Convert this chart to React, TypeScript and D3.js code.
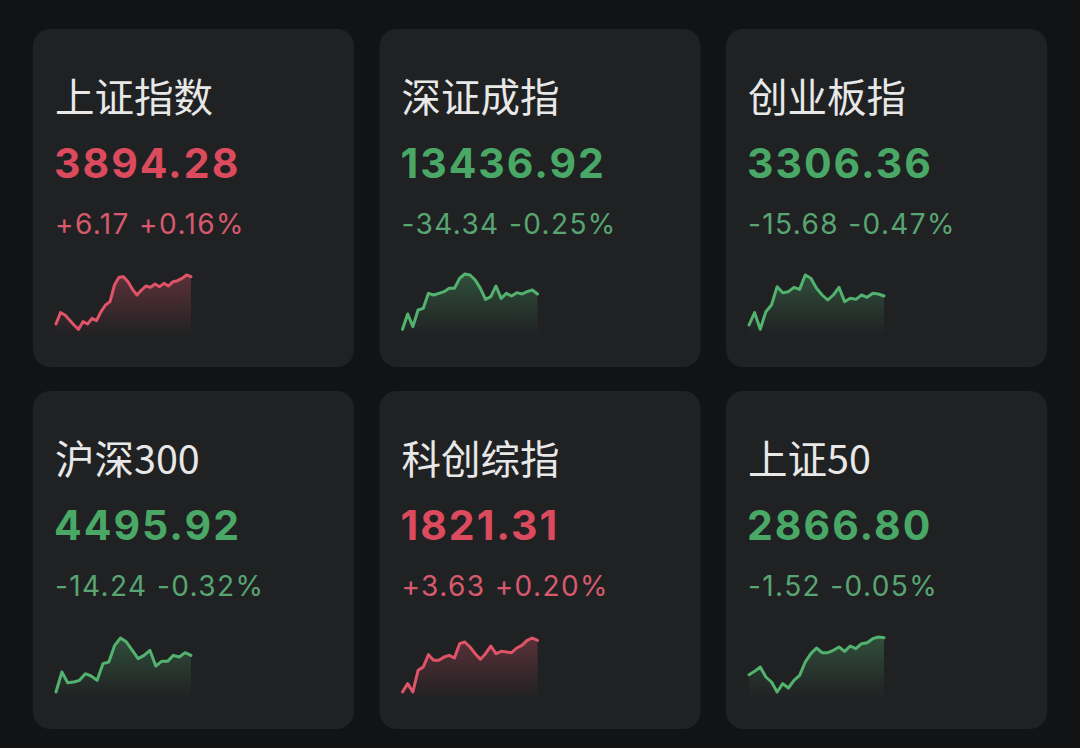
import React from "react";
import * as d3 from "d3";

const names = ["上证指数", "深证成指", "创业板指", "沪深300", "科创综指", "上证50"];
const lastValues = [3894.28, 13436.92, 3306.36, 4495.92, 1821.31, 2866.8];
const changes = [6.17, -34.34, -15.68, -14.24, 3.63, -1.52];
const changePcts = [0.16, -0.25, -0.47, -0.32, 0.2, -0.05];

// intraday sparkline levels (relative plot units)
const spark1 = [48, 82, 75, 60, 45, 32, 55, 48, 65, 58, 85, 105, 115, 165, 188, 190, 175, 152, 135, 150, 162, 158, 168, 160, 170, 162, 175, 178, 185, 195, 190];
const spark2 = [32, 78, 40, 90, 95, 140, 135, 140, 145, 155, 155, 185, 198, 195, 180, 155, 122, 130, 162, 125, 140, 132, 142, 138, 145, 150, 138];
const spark3 = [45, 82, 32, 85, 105, 160, 142, 145, 158, 152, 195, 185, 155, 135, 120, 135, 158, 115, 125, 122, 135, 128, 140, 138, 132];
const spark4 = [30, 90, 58, 60, 65, 85, 78, 65, 115, 120, 170, 192, 180, 155, 130, 140, 155, 108, 122, 122, 140, 135, 148, 140];
const spark5 = [30, 55, 30, 95, 105, 142, 125, 125, 135, 140, 132, 175, 180, 165, 145, 128, 145, 168, 145, 152, 150, 148, 162, 170, 185, 192, 185];
const spark6 = [82, 92, 105, 75, 60, 30, 55, 42, 65, 80, 120, 145, 162, 148, 148, 155, 165, 152, 168, 160, 175, 178, 190, 195, 193];
const sparks = [spark1, spark2, spark3, spark4, spark5, spark6];

const W = 1080;
const H = 748;
const BG = "#121315";
const CARD = "#202123";
const RED = "#dc4a5e";
const RED_SUB = "#d75a6c";
const RED_LINE = "#e05468";
const GREEN = "#4aa867";
const GREEN_SUB = "#58a572";
const GREEN_LINE = "#52b26e";

const colX = d3.scaleBand<number>().domain([0, 1, 2]).range([33, 1047]).paddingInner(0.0736).paddingOuter(0);
const rowY = d3.scaleBand<number>().domain([0, 1]).range([29, 729]).paddingInner(0.0663).paddingOuter(0);

const fmtNum = (v: number) => v.toFixed(2);
const fmtSigned = (v: number) => (v > 0 ? "+" : "") + v.toFixed(2);

function Card({ i }: { i: number }) {
  const col = i % 3;
  const row = Math.floor(i / 3);
  const x0 = colX(col)!;
  const y0 = rowY(row)!;
  const cw = colX.bandwidth();
  const ch = rowY.bandwidth();
  const up = changes[i] >= 0;
  const main = up ? RED : GREEN;
  const sub = up ? RED_SUB : GREEN_SUB;
  const lineC = up ? RED_LINE : GREEN_LINE;
  const data = sparks[i];
  const sx = d3.scaleLinear().domain([0, data.length - 1]).range([23, 158]);
  const sy = d3.scaleLinear().domain([0, 240]).range([311, 231]);
  const line = d3.line<number>().x((_, k) => sx(k)).y((d) => sy(d)).curve(d3.curveLinear);
  const area = d3.area<number>().x((_, k) => sx(k)).y0(sy(12)).y1((d) => sy(d)).curve(d3.curveLinear);
  const gid = `grad${i}`;
  return (
    <g transform={`translate(${x0},${y0})`}>
      <defs>
        <linearGradient id={gid} x1="0" y1={sy(200)} x2="0" y2={sy(12)} gradientUnits="userSpaceOnUse">
          <stop offset="0" stopColor={lineC} stopOpacity={0.32} />
          <stop offset="1" stopColor={lineC} stopOpacity={0} />
        </linearGradient>
      </defs>
      <rect x={0} y={0} width={cw} height={ch} rx={17} ry={17} fill={CARD} />
      <text x={22} y={83} fill="#e8e8e8" fontSize={39.5} fontFamily="'Noto Sans CJK SC', 'Noto Sans', sans-serif">
        {names[i]}
      </text>
      <text x={21} y={149} fill={main} fontSize={41} fontWeight={700} letterSpacing={2} fontFamily="Inter, Roboto, sans-serif">
        {fmtNum(lastValues[i])}
      </text>
      <text x={22} y={205} fill={sub} fontSize={28} letterSpacing={1.4} fontFamily="Inter, Roboto, sans-serif">
        {fmtSigned(changes[i]) + " " + fmtSigned(changePcts[i]) + "%"}
      </text>
      <path d={area(data) || ""} fill={`url(#${gid})`} />
      <path d={line(data) || ""} fill="none" stroke={lineC} strokeWidth={3} strokeLinejoin="round" strokeLinecap="round" />
    </g>
  );
}

export default function App() {
  return (
    <svg width={W} height={H} viewBox={`0 0 ${W} ${H}`} style={{ position: "absolute", left: 0, top: 0, display: "block" }}>
      <rect x={0} y={0} width={W} height={H} fill={BG} />
      {names.map((_, i) => (
        <Card key={i} i={i} />
      ))}
    </svg>
  );
}
